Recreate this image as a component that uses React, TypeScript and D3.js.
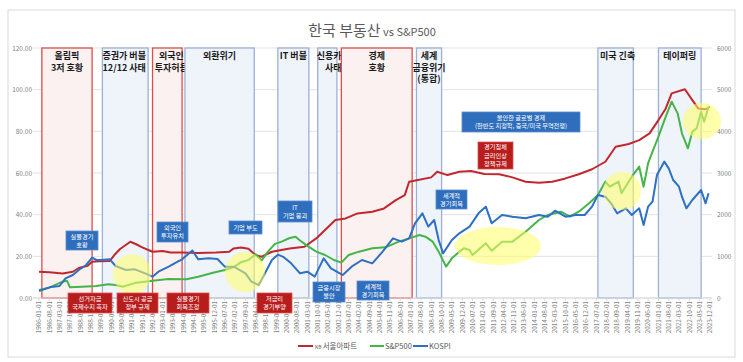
import * as d3 from "d3";

// KB 서울아파트 index (left axis)
const kbDates = ["1986-01","1986-08","1987-05","1987-12","1988-04","1988-10","1989-01","1989-06","1990-01","1990-04","1990-08","1991-03","1991-07","1991-11","1992-06","1993-01","1993-06","1994-01","1995-01","1996-01","1996-10","1997-01","1997-06","1997-11","1998-04","1998-08","1999-03","2000-03","2001-01","2001-09","2002-03","2002-10","2003-05","2004-01","2004-11","2005-07","2006-03","2006-09","2006-12","2007-06","2008-03","2008-07","2009-02","2009-10","2010-06","2011-03","2012-01","2012-10","2013-07","2014-04","2015-01","2015-10","2016-07","2017-04","2018-01","2018-08","2019-05","2019-12","2020-07","2021-01","2021-06","2021-10","2022-07","2022-12","2023-04","2023-09","2023-12"];
const kbValues = [12.6,12.4,11.8,12.6,14.4,15.5,17.4,17.6,17.8,20.5,23.5,27.0,25.8,24.3,22.2,22.6,21.8,21.8,21.6,21.8,22.2,23.8,24.2,23.6,20.5,19.8,22.2,23.8,24.6,28.6,32.6,37.4,38.2,40.6,41.4,43.0,47.0,49.4,55.8,56.6,57.9,60.6,59.0,60.6,61.0,59.5,59.4,57.9,55.8,55.3,55.8,57.4,59.4,61.8,65.4,72.6,73.9,75.8,79.0,85.4,91.0,98.2,100.2,95.0,91.0,90.6,91.8];

// S&P500 (right axis)
const spDates = ["1986-01","1986-08","1987-05","1987-08","1987-10","1988-06","1989-04","1989-12","1990-05","1990-10","1991-07","1992-06","1993-05","1994-05","1995-01","1995-11","1996-07","1997-01","1997-06","1997-11","1998-04","1998-08","1998-12","1999-05","1999-10","2000-03","2000-07","2000-10","2001-03","2001-09","2002-03","2002-09","2003-02","2003-07","2004-02","2004-11","2005-08","2006-05","2006-12","2007-07","2007-11","2008-04","2008-08","2009-01","2009-05","2009-10","2010-01","2010-05","2010-07","2011-04","2011-08","2012-03","2012-10","2013-07","2014-04","2014-10","2015-07","2016-01","2016-07","2017-02","2017-08","2018-01","2018-04","2018-10","2018-12","2019-07","2019-12","2020-03","2020-06","2020-09","2021-01","2021-06","2021-10","2022-02","2022-05","2022-09","2022-12","2023-03","2023-06","2023-08","2023-11"];
const spValues = [190,248,392,416,256,272,288,328,312,272,368,416,456,448,512,608,672,740,860,912,1050,900,1100,1300,1360,1440,1472,1380,1250,1112,1032,912,850,1032,1112,1192,1216,1352,1432,1512,1472,1352,1112,752,952,1112,1192,1152,1032,1312,1136,1352,1352,1592,1872,1992,2072,1952,2072,2272,2472,2792,2672,2792,2512,2912,3152,2672,3232,3512,3872,4352,4712,4432,3952,3592,3992,4072,4472,4232,4592];

// KOSPI (right axis)
const kospiDates = ["1986-01","1986-08","1987-03","1987-07","1987-12","1988-04","1988-09","1989-01","1989-04","1989-07","1990-01","1990-05","1990-12","1991-06","1992-01","1992-06","1992-10","1993-05","1993-11","1994-02","1994-09","1995-01","1995-08","1996-02","1996-07","1997-01","1997-07","1997-09","1998-01","1998-06","1998-09","1999-03","1999-07","1999-11","2000-04","2000-10","2001-03","2001-08","2002-02","2002-07","2003-01","2003-03","2003-09","2004-04","2004-11","2005-06","2006-01","2006-07","2006-12","2007-04","2007-09","2008-01","2008-05","2008-08","2008-11","2009-05","2009-10","2010-05","2010-11","2011-04","2011-08","2012-03","2012-10","2013-07","2014-04","2014-10","2015-03","2015-10","2016-05","2016-11","2017-04","2017-08","2018-01","2018-05","2018-09","2019-03","2019-07","2019-12","2020-03","2020-06","2020-09","2020-12","2021-05","2021-08","2021-11","2022-03","2022-05","2022-08","2022-12","2023-06","2023-09","2023-11"];
const kospiValues = [168,256,288,472,552,672,792,968,912,912,928,768,672,688,592,512,632,752,872,928,1140,928,952,936,752,752,632,592,392,312,512,912,1040,980,832,592,632,512,950,712,592,552,752,912,832,1112,1432,1352,1432,1792,2032,1712,1872,1392,1072,1392,1552,1712,2032,2192,1792,1992,1952,1912,1992,1952,2096,1952,1992,1992,2192,2472,2432,2272,2032,2152,1992,2152,1752,2192,2312,2952,3272,3112,2832,2672,2432,2152,2352,2592,2272,2512];

const leftTicks = [0, 20, 40, 60, 80, 100, 120];
const rightTicks = [0, 1000, 2000, 3000, 4000, 5000, 6000];

// shaded periods
const periods = [
  { start: "1986-03", end: "1989-01", tone: "red", label: ["올림픽", "3저 호황"], dx: 0 },
  { start: "1989-08", end: "1992-03", tone: "blue", label: ["증권가 버블", "12/12 사태"], dx: -1 },
  { start: "1992-06", end: "1994-02", tone: "red", label: ["외국인", "투자허용"], dx: 4 },
  { start: "1994-04", end: "1998-03", tone: "blue", label: ["외환위기"], dx: 0 },
  { start: "1999-07", end: "2001-04", tone: "blue", label: ["IT 버블"], dx: 0 },
  { start: "2001-10", end: "2002-11", tone: "blue", label: ["신용카드", "사태"], dx: 6 },
  { start: "2003-02", end: "2007-02", tone: "red", label: ["경제", "호황"], dx: 0 },
  { start: "2007-05", end: "2008-10", tone: "blue", label: ["세계", "금융위기", "(통합)"], dx: 0 },
  { start: "2017-08", end: "2019-08", tone: "blue", label: ["미국 긴축"], dx: 2 },
  { start: "2021-01", end: "2023-06", tone: "blue", label: ["테이퍼링"], dx: 0 },
];

// callout boxes: [x, y, w, h]
const callouts = [
  { box: [66, 231, 32, 19], tone: "blue", text: ["실물경기", "호황"] },
  { box: [157, 222, 31, 20], tone: "blue", text: ["외국인", "투자유치"] },
  { box: [229, 221, 33, 13], tone: "blue", text: ["기업 부도"] },
  { box: [278, 201, 34, 21], tone: "blue", text: ["IT", "기업 붕괴"] },
  { box: [313, 282, 32, 20], tone: "blue", text: ["금융시장", "불안"] },
  { box: [357, 281, 32, 19], tone: "blue", text: ["세계적", "경기회복"] },
  { box: [436, 190, 31, 19], tone: "blue", text: ["세계적", "경기회복"] },
  { box: [462, 112, 118, 20], tone: "blue", text: ["불안한 글로벌 경제", "(한반도 지정학, 중국/미국 무역전쟁)"] },
  { box: [68, 293, 44, 20], tone: "red", text: ["선거자금", "국제수지 흑자"] },
  { box: [117, 293, 41, 20], tone: "red", text: ["신도시 공급", "정부 규제"] },
  { box: [167, 293, 42, 20], tone: "red", text: ["실물경기", "회복조정"] },
  { box: [257, 293, 35, 20], tone: "red", text: ["저금리", "경기부양"] },
  { box: [478, 142, 35, 27], tone: "red", text: ["경기침체", "금리인상", "정책규제"] },
];

// yellow highlights: [cx, cy, rx, ry]
const highlights = [
  [132, 274, 19, 20],
  [245, 272, 20, 20],
  [498, 246, 43, 19],
  [622, 191, 19, 19],
  [702, 121, 19, 18],
];

const FONT = "'Noto Sans CJK KR', 'Noto Sans', sans-serif";
const parse = d3.timeParse("%Y-%m");
const fmt = d3.timeFormat("%Y-%m-%d");

const x = d3.scaleTime().domain([parse("1986-01")!, parse("2023-12")!]).range([39, 710]);
const yL = d3.scaleLinear().domain([0, 120]).range([298, 48]);
const yR = d3.scaleLinear().domain([0, 6000]).range([298, 48]);

const xTicks = d3.timeMonth.range(parse("1986-01")!, parse("2024-01")!, 7);

function pathFor(dates: string[], values: number[], y: d3.ScaleLinear<number, number>) {
  const pts = dates.map((d, i) => [x(parse(d)!), y(values[i])] as [number, number]);
  return d3.line()(pts) || "";
}

export default function App() {
  const red = "#C0282D";
  const green = "#45B549";
  const blue = "#2E70C2";
  return (
    <svg width={743} height={362} style={{ position: "absolute", left: 0, top: 0, background: "#fff" }} fontFamily={FONT}>
      <rect x={8} y={10} width={727} height={347} fill="#fff" stroke="#D9D9D9" />
      <text x={372} y={36} textAnchor="middle" fill="#595959">
        <tspan fontSize={15}>한국 부동산</tspan>
        <tspan fontSize={11}> vs S&amp;P500</tspan>
      </text>

      {/* grid */}
      {leftTicks.map((t) => (
        <g key={t}>
          <line x1={33} x2={712} y1={yL(t)} y2={yL(t)} stroke="#E3E3E3" />
          <text x={32} y={yL(t) + 2.5} textAnchor="end" fontSize={6.5} fill="#7F7F7F">{t.toFixed(2)}</text>
        </g>
      ))}
      {rightTicks.map((t) => (
        <text key={t} x={717} y={yR(t) + 2.5} fontSize={6.5} fill="#7F7F7F">{t}</text>
      ))}

      {/* shaded periods */}
      {periods.map((p, i) => {
        const x0 = x(parse(p.start)!);
        const x1 = x(parse(p.end)!);
        const isRed = p.tone === "red";
        return (
          <g key={i}>
            <rect x={x0} y={48} width={x1 - x0} height={250}
              fill={isRed ? "#FBF1F0" : "#EFF3FA"}
              stroke={isRed ? "#D9504B" : "#9DB1D6"} strokeWidth={1.3} />
            {p.label.map((l, j) => (
              <text key={j} x={(x0 + x1) / 2 + p.dx} y={59 + j * 11.5} textAnchor="middle"
                fontSize={9} fontWeight="bold" fill="#1a1a1a">{l}</text>
            ))}
          </g>
        );
      })}

      {/* x axis */}
      <line x1={33} x2={712} y1={298} y2={298} stroke="#D9D9D9" />
      {xTicks.map((d, i) => (
        <g key={i}>
          <line x1={x(d)} x2={x(d)} y1={298} y2={301} stroke="#D9D9D9" />
          <text transform={`translate(${x(d) + 2.3},301) rotate(-90)`} textAnchor="end"
            fontSize={6.3} fill="#7F7F7F">{fmt(d)}</text>
        </g>
      ))}

      {/* series */}
      <path d={pathFor(kbDates, kbValues, yL)} fill="none" stroke={red} strokeWidth={2} strokeLinejoin="round" />
      <path d={pathFor(spDates, spValues, yR)} fill="none" stroke={green} strokeWidth={2} strokeLinejoin="round" />
      <path d={pathFor(kospiDates, kospiValues, yR)} fill="none" stroke={blue} strokeWidth={2} strokeLinejoin="round" />

      {/* highlights */}
      {highlights.map((h, i) => (
        <ellipse key={i} cx={h[0]} cy={h[1]} rx={h[2]} ry={h[3]} fill="#FFFF66" opacity={0.55} />
      ))}

      {/* callouts */}
      {callouts.map((c, i) => {
        const [bx, by, bw, bh] = c.box;
        const n = c.text.length;
        const lh = 8.2;
        const top = by + bh / 2 - (n * lh) / 2 + lh - 2;
        return (
          <g key={i}>
            <rect x={bx} y={by} width={bw} height={bh}
              fill={c.tone === "red" ? "#B81D1D" : "#2F6EBD"}
              stroke={c.tone === "red" ? "#D9534F" : "#5B8BD0"} strokeWidth={0.8} />
            {c.text.map((t, j) => (
              <text key={j} x={bx + bw / 2} y={top + j * lh} textAnchor="middle" fontSize={6.2} fill="#fff">{t}</text>
            ))}
          </g>
        );
      })}

      {/* legend */}
      <line x1={298} x2={313} y1={346} y2={346} stroke={red} strokeWidth={2} />
      <text x={315} y={348.5} fontSize={7.5} fill="#595959"><tspan fontSize={5}>KB </tspan>서울아파트</text>
      <line x1={370} x2={384} y1={346} y2={346} stroke={green} strokeWidth={2} />
      <text x={385} y={348.5} fontSize={7.5} fill="#595959">S&amp;P500</text>
      <line x1={413} x2={428} y1={346} y2={346} stroke={blue} strokeWidth={2} />
      <text x={429} y={348.5} fontSize={7.5} fill="#595959">KOSPI</text>
    </svg>
  );
}
